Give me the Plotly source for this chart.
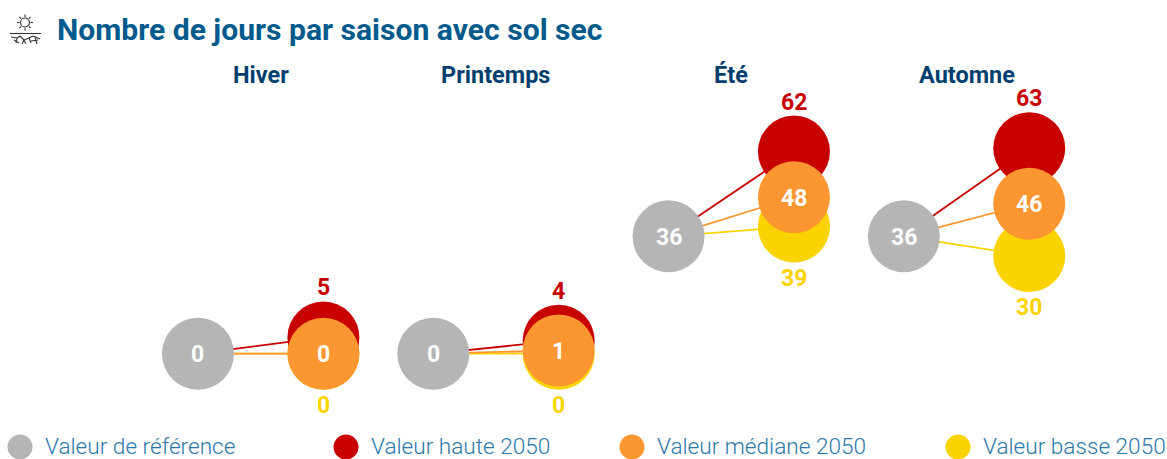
import plotly.graph_objects as go

seasons = ["Hiver", "Printemps", "Été", "Automne"]
reference = [0, 0, 36, 36]
high = [5, 4, 62, 63]
median = [0, 1, 48, 46]
low = [0, 0, 39, 30]
legend_labels = ["Valeur de référence", "Valeur haute 2050", "Valeur médiane 2050", "Valeur basse 2050"]

GREY, RED, ORANGE, YELLOW = "#b5b5b5", "#c80000", "#fc9630", "#fbd400"
NAVY, BLUE, LEGEND = "#003f6f", "#005a8c", "#2a78aa"
W, H = 1167, 459
OFF = 0.2665
FONT = "Roboto"

xr = [i - OFF for i in range(4)]
xv = [i + OFF for i in range(4)]

fig = go.Figure()

for vals, col in [(low, YELLOW), (median, ORANGE), (high, RED)]:
    for i in range(4):
        fig.add_trace(go.Scatter(x=[xr[i], xv[i]], y=[reference[i], vals[i]], mode="lines",
                                 line=dict(color=col, width=1.8), hoverinfo="skip", showlegend=False))

def circles(x, y, col):
    fig.add_trace(go.Scatter(x=x, y=y, mode="markers", hoverinfo="x+y",
                             marker=dict(size=72, color=col, line=dict(width=0)), showlegend=False))

circles(xv, low, YELLOW)
circles(xv, high, RED)
circles(xv, median, ORANGE)
circles(xr, reference, GREY)

def px(x): return x / W
def py(y): return 1 - y / H

annotations = [dict(text="Nombre de jours par saison avec sol sec", x=px(55), y=py(30), xref="paper", yref="paper",
                    xanchor="left", yanchor="middle", showarrow=False,
                    font=dict(family=FONT, size=30.1, color=BLUE, weight=700))]

def label(x, y, col, shift):
    return dict(text=str(y), x=x, y=y, xref="x", yref="y", yshift=shift, showarrow=False,
                xanchor="center", yanchor="middle", font=dict(family=FONT, size=23, color=col, weight=700))

for i, s in enumerate(seasons):
    annotations.append(dict(text=s, x=i, y=py(75), xref="x", yref="paper", xanchor="center", yanchor="middle",
                            showarrow=False, font=dict(family=FONT, size=23.5, color=NAVY, weight=700)))
    annotations.append(label(xv[i], high[i], RED, 49.5))
    annotations.append(label(xv[i], low[i], YELLOW, -51.5))
    annotations.append(label(xv[i], median[i], "white", -1))
    annotations.append(label(xr[i], reference[i], "white", -1))

shapes = []
leg_x = [20, 346, 632, 958]
leg_cols = [GREY, RED, ORANGE, YELLOW]
for lx, c, lab in zip(leg_x, leg_cols, legend_labels):
    shapes.append(dict(type="circle", xref="paper", yref="paper", x0=px(lx - 12.5), x1=px(lx + 12.5),
                       y0=py(447 + 12.5), y1=py(447 - 12.5), fillcolor=c, line=dict(width=0)))
    annotations.append(dict(text=lab, x=px(lx + 23), y=py(446), xref="paper", yref="paper", xanchor="left",
                            yanchor="middle", showarrow=False,
                            font=dict(family=FONT, size=22.6, color=LEGEND, weight=300)))

# small sun and cracked-soil pictogram
def icon(path):
    shapes.append(dict(type="path", path=path, xref="paper", yref="paper",
                       line=dict(color="#333333", width=1.1)))

def P(*pts):
    return "M " + " L ".join(f"{px(a):.5f},{py(b):.5f}" for a, b in pts)

shapes.append(dict(type="circle", xref="paper", yref="paper", x0=px(20.5), x1=px(29.5), y0=py(27), y1=py(18),
                   line=dict(color="#333333", width=1.1)))
for seg in [((25, 14.5), (25, 17)), ((25, 28), (25, 30.5)), ((17, 22.5), (19.5, 22.5)), ((30.5, 22.5), (33, 22.5)),
            ((19.5, 17), (21, 18.5)), ((30.5, 17), (29, 18.5)), ((19.5, 28), (21, 26.5)), ((30.5, 28), (29, 26.5)),
            ((10, 33.5), (41, 33.5)),
            ((11, 37), (17, 38)), ((17, 38), (20, 36)), ((17, 38), (16, 43)), ((20, 36), (24, 40)), ((24, 40), (22, 44)),
            ((24, 40), (29, 38)), ((29, 38), (33, 36)), ((29, 38), (31, 43)), ((33, 36), (40, 39)), ((35, 37), (37, 44)),
            ((24, 40), (26, 44)), ((14, 40), (19, 43)), ((31, 41), (38, 40))]:
    icon(P(*seg))

fig.update_layout(
    width=W, height=H, margin=dict(l=0, r=0, t=0, b=0), autosize=False,
    paper_bgcolor="white", plot_bgcolor="white", showlegend=False,
    xaxis=dict(range=[-1.108, 3.852], visible=False, fixedrange=True),
    yaxis=dict(range=[-32.3, 108.5], visible=False, fixedrange=True),
    annotations=annotations, shapes=shapes,
)
fig.write_html("out.html", config=dict(displayModeBar=False),
               post_script="document.body.style.margin='0';document.documentElement.style.overflow='hidden';")
